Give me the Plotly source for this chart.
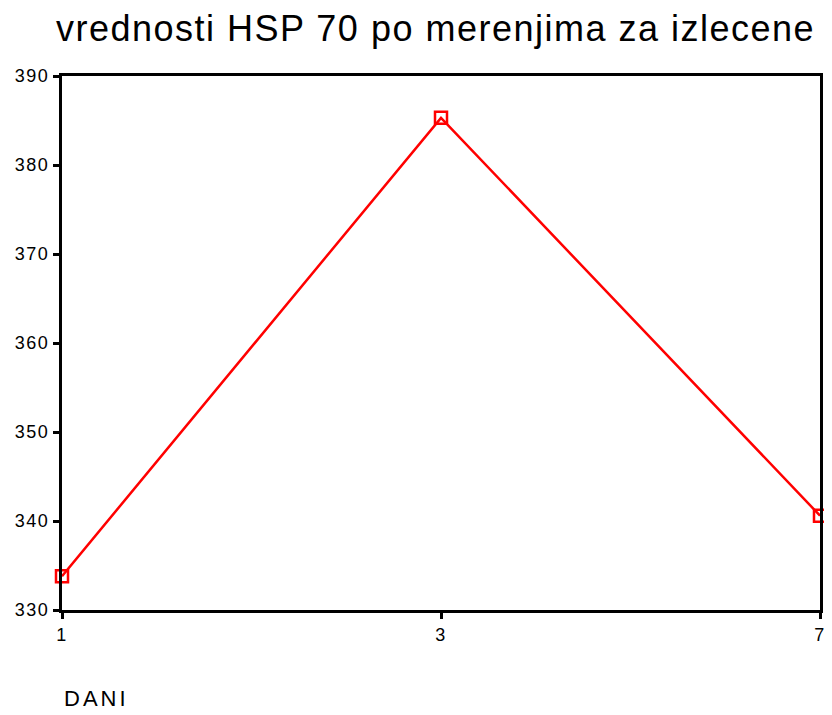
import plotly.graph_objects as go

days = ["1", "3", "7"]
values = [333.8, 385.3, 340.6]
y_ticks = [330, 340, 350, 360, 370, 380, 390]

x_pos = list(range(len(days)))


def spaced(t, px):
    return f'<span style="letter-spacing:{px}px">{t}</span>'


W, H = 840, 715

fig = go.Figure()
fig.add_trace(go.Scatter(
    x=x_pos, y=values, mode="lines+markers",
    line=dict(color="#ff0000", width=2.5),
    marker=dict(symbol="square-open", size=12, color="#ff0000", line=dict(width=2.5, color="#ff0000")),
    cliponaxis=False, showlegend=False,
))

fig.update_layout(
    width=W, height=H,
    paper_bgcolor="white", plot_bgcolor="white",
    margin=dict(l=54, r=28, t=68, b=113),
    font=dict(family="Liberation Sans, Arial, sans-serif", color="black"),
    title=dict(text=spaced("vrednosti HSP 70 po merenjima za izlecene", 1.5),
               x=427.5 / W, xanchor="center", y=1 - 20 / H, yanchor="middle",
               font=dict(size=36, color="black")),
    xaxis=dict(range=[0, 2], tickmode="array", tickvals=x_pos,
               ticktext=[spaced(d, 1.5) for d in days], automargin=False,
               ticklabeloverflow="allow",
               showgrid=False, zeroline=False, showline=True, linecolor="black", linewidth=3,
               mirror=True, ticks="outside", ticklen=6, tickwidth=3, tickcolor="black",
               tickfont=dict(size=18)),
    yaxis=dict(range=[330, 390], tickmode="array", tickvals=y_ticks,
               ticktext=[spaced(str(v), 1.5) for v in y_ticks], automargin=False,
               ticklabeloverflow="allow",
               showgrid=False, zeroline=False, showline=True, linecolor="black", linewidth=3,
               mirror=True, ticks="outside", ticklen=6, tickwidth=3, tickcolor="black",
               tickfont=dict(size=18)),
    annotations=[dict(text=spaced("DANI", 3), xref="paper", yref="paper", x=0.0, y=-88 / 534,
                      xanchor="left", yanchor="middle", showarrow=False,
                      font=dict(size=22, color="black"))],
)

fig.write_html("out.html")
